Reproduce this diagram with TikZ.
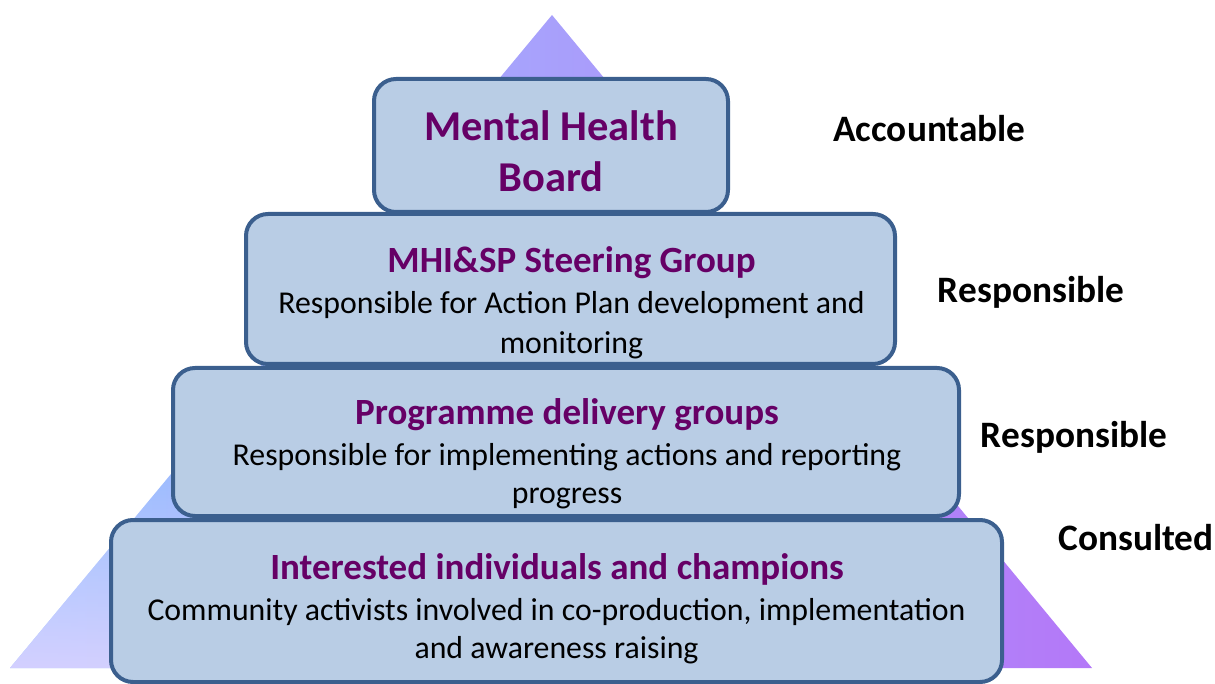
\documentclass[tikz,border=0pt]{standalone}
\usepackage{fontspec}
\setmainfont{Carlito}
\usetikzlibrary{fadings}
\definecolor{boxfill}{HTML}{B9CDE5}
\definecolor{boxline}{HTML}{3B5F8E}
\definecolor{titlecol}{HTML}{660066}
\definecolor{triblue}{HTML}{9CC8FF}
\definecolor{trimid}{HTML}{AAB4FF}
\definecolor{tripurple}{HTML}{B478F8}
\definecolor{trilav}{HTML}{D4D0FF}
\tikzfading[name=fadeup, top color=transparent!100, bottom color=transparent!0]
\begin{document}
\begin{tikzpicture}[x=1pt,y=-1pt,
  tier/.style={draw=boxline, fill=boxfill, line width=4pt, rounded corners=22pt, inner sep=0pt},
  bigtitle/.style={anchor=base, inner sep=0pt, text=titlecol, font=\fontsize{42.5}{50}\selectfont\bfseries},
  tiertitle/.style={anchor=base, inner sep=0pt, text=titlecol, font=\fontsize{37}{44}\selectfont\bfseries},
  body/.style={anchor=base, inner sep=0pt, text=black, font=\fontsize{31.8}{38}\selectfont},
  role/.style={anchor=base, inner sep=0pt, text=black, font=\fontsize{37.3}{44}\selectfont\bfseries}]
\useasboundingbox (0,0) rectangle (1215,684);
% background triangle
\coordinate (apex) at (552,15);
\coordinate (bl) at (10,668);
\coordinate (br) at (1092,668);
\shade[left color=triblue, middle color=trimid, right color=tripurple] (apex) -- (bl) -- (br) -- cycle;
\begin{scope}
  \clip (apex) -- (bl) -- (br) -- cycle;
  \fill[trilav, path fading=fadeup] (0,480) rectangle (300,670);
\end{scope}
% tiers
\node[tier, minimum width=354pt, minimum height=133pt] (b1) at (551,145.5) {};
\node[tier, minimum width=649pt, minimum height=150pt] (b2) at (570.5,289) {};
\node[tier, minimum width=786pt, minimum height=148pt] (b3) at (566,442) {};
\node[tier, minimum width=891pt, minimum height=162pt] (b4) at (556.5,601) {};
% texts
\node[bigtitle] (t1a) at (551,140.5) {Mental Health};
\node[bigtitle] (t1b) at (551,191.5) {Board};
\node[tiertitle] (t2) at (571.5,273) {MHI\&SP Steering Group};
\node[body] (d2a) at (571.5,314) {Responsible for Action Plan development and};
\node[body] (d2b) at (571.5,353) {monitoring};
\node[tiertitle] (t3) at (567,424) {Programme delivery groups};
\node[body] (d3a) at (567,465) {Responsible for implementing actions and reporting};
\node[body] (d3b) at (567,503) {progress};
\node[tiertitle] (t4) at (557,579) {Interested individuals and champions};
\node[body] (d4a) at (556.5,620) {Community activists involved in co-production, implementation};
\node[body] (d4b) at (556.5,658) {and awareness raising};
% roles
\node[role] (r1) at (929.5,142) {Accountable};
\node[role] (r2) at (1031,303) {Responsible};
\node[role] (r3) at (1074,447) {Responsible};
\node[role] (r4) at (1136,550) {Consulted};
\end{tikzpicture}
\end{document}
